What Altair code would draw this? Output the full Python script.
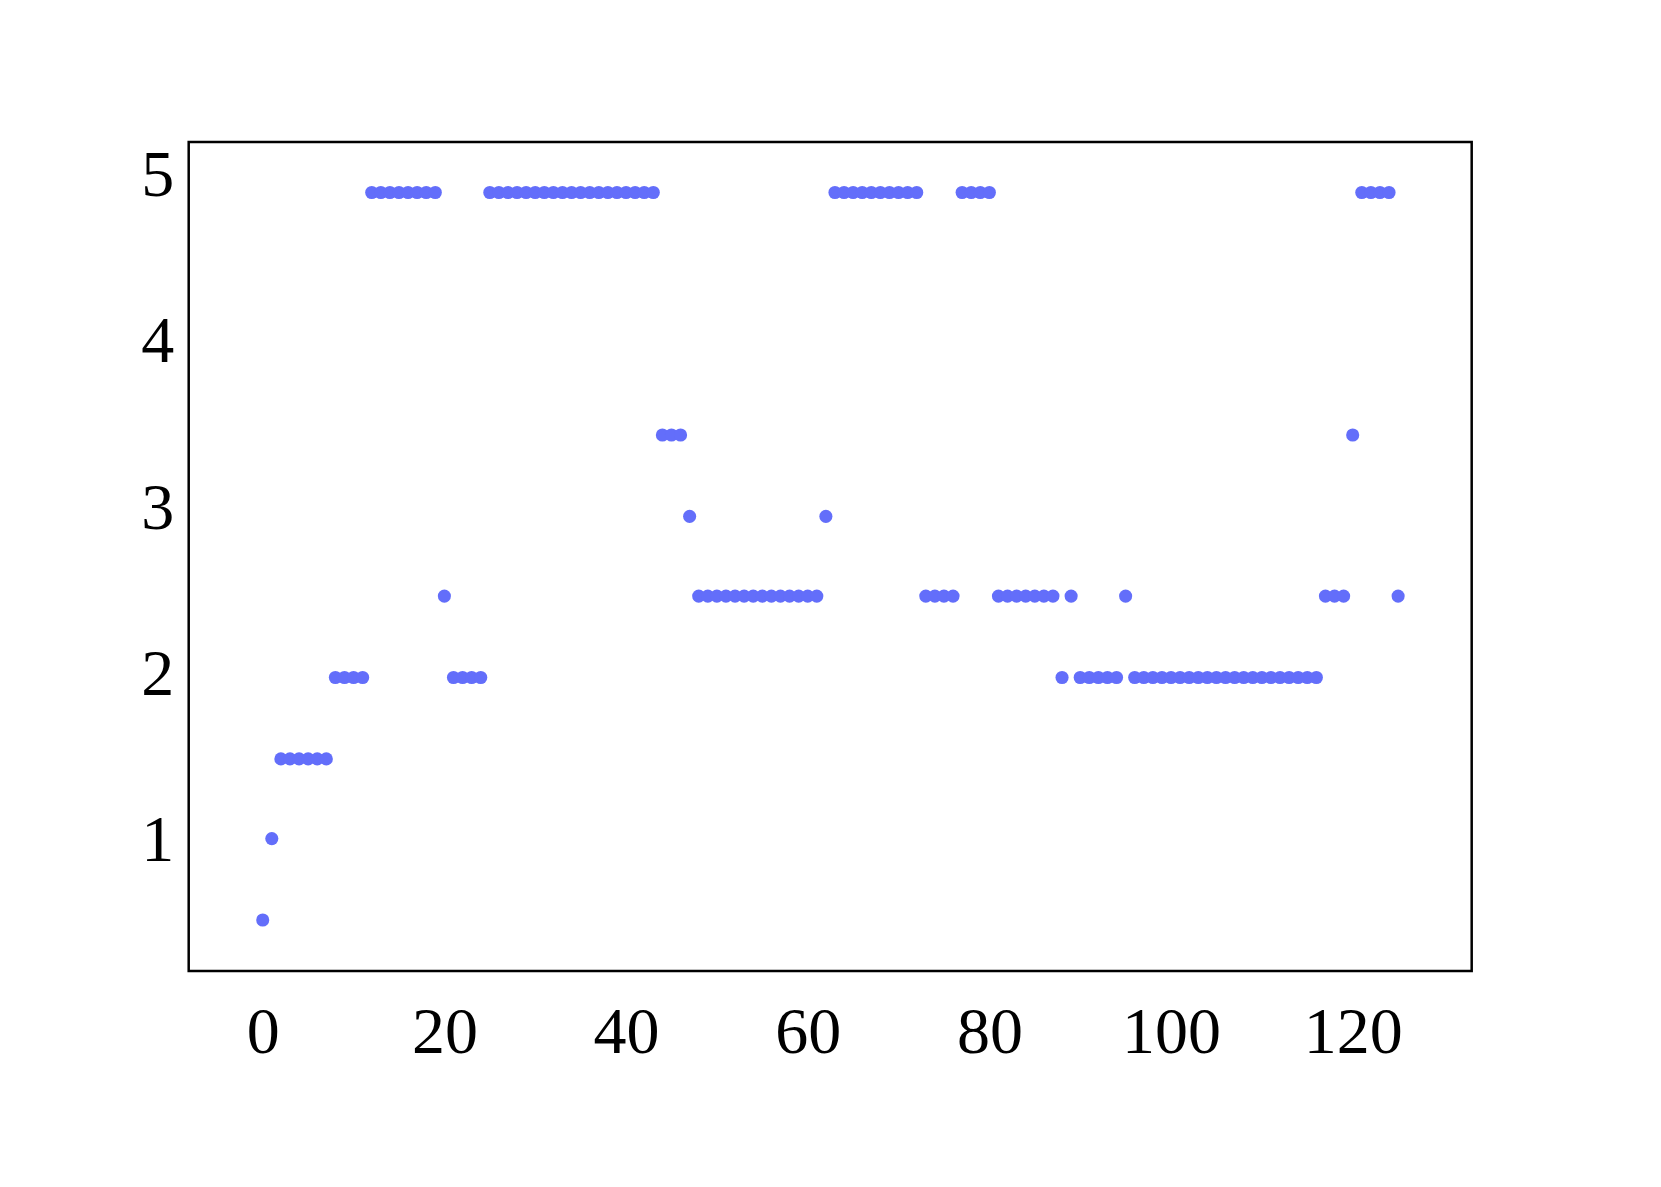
import altair as alt
import pandas as pd

# x positions (observation index)
index = list(range(126))

# y values
value = [
    0.52, 1.01,
    1.49, 1.49, 1.49, 1.49, 1.49, 1.49,
    1.98, 1.98, 1.98, 1.98,
    4.90, 4.90, 4.90, 4.90, 4.90, 4.90, 4.90, 4.90,
    2.47,
    1.98, 1.98, 1.98, 1.98,
    4.90, 4.90, 4.90, 4.90, 4.90, 4.90, 4.90, 4.90, 4.90, 4.90,
    4.90, 4.90, 4.90, 4.90, 4.90, 4.90, 4.90, 4.90, 4.90,
    3.44, 3.44, 3.44,
    2.95,
    2.47, 2.47, 2.47, 2.47, 2.47, 2.47, 2.47, 2.47, 2.47, 2.47, 2.47, 2.47, 2.47, 2.47,
    2.95,
    4.90, 4.90, 4.90, 4.90, 4.90, 4.90, 4.90, 4.90, 4.90, 4.90,
    2.47, 2.47, 2.47, 2.47,
    4.90, 4.90, 4.90, 4.90,
    2.47, 2.47, 2.47, 2.47, 2.47, 2.47, 2.47,
    1.98,
    2.47,
    1.98, 1.98, 1.98, 1.98, 1.98,
    2.47,
    1.98, 1.98, 1.98, 1.98, 1.98, 1.98, 1.98, 1.98, 1.98, 1.98, 1.98,
    1.98, 1.98, 1.98, 1.98, 1.98, 1.98, 1.98, 1.98, 1.98, 1.98,
    2.47, 2.47, 2.47,
    3.44,
    4.90, 4.90, 4.90, 4.90,
    2.47,
]

x_ticks = [0, 20, 40, 60, 80, 100, 120]
y_ticks = [1, 2, 3, 4, 5]

df = pd.DataFrame({"index": index[: len(value)], "value": value})

FONT = "Liberation Serif"

chart = (
    alt.Chart(df)
    .mark_circle(size=172, opacity=1, color="#636EFA")
    .encode(
        x=alt.X(
            "index:Q",
            scale=alt.Scale(domain=[-8.15, 133.1], nice=False, zero=False),
            axis=alt.Axis(
                values=x_ticks,
                format="d",
                title=None,
                grid=False,
                domain=False,
                ticks=False,
                tickSize=0,
                labelFont=FONT,
                labelFontSize=66,
                labelColor="black",
                labelPadding=30,
                labelFlush=False,
                labelOverlap=False,
            ),
        ),
        y=alt.Y(
            "value:Q",
            scale=alt.Scale(domain=[0.213, 5.204], nice=False, zero=False),
            axis=alt.Axis(
                values=y_ticks,
                format="d",
                title=None,
                grid=False,
                domain=False,
                ticks=False,
                tickSize=0,
                labelFont=FONT,
                labelFontSize=66,
                labelColor="black",
                labelPadding=15,
                labelFlush=False,
                labelOverlap=False,
            ),
        ),
    )
    .properties(
        width=1283,
        height=829,
        autosize=alt.AutoSizeParams(type="none"),
        padding={"left": 180.7, "top": 134, "right": 150, "bottom": 150},
        background="white",
    )
    .configure_view(stroke="black", strokeWidth=2.5)
)

chart.save("out.html", embed_options={"renderer": "svg", "actions": False})
